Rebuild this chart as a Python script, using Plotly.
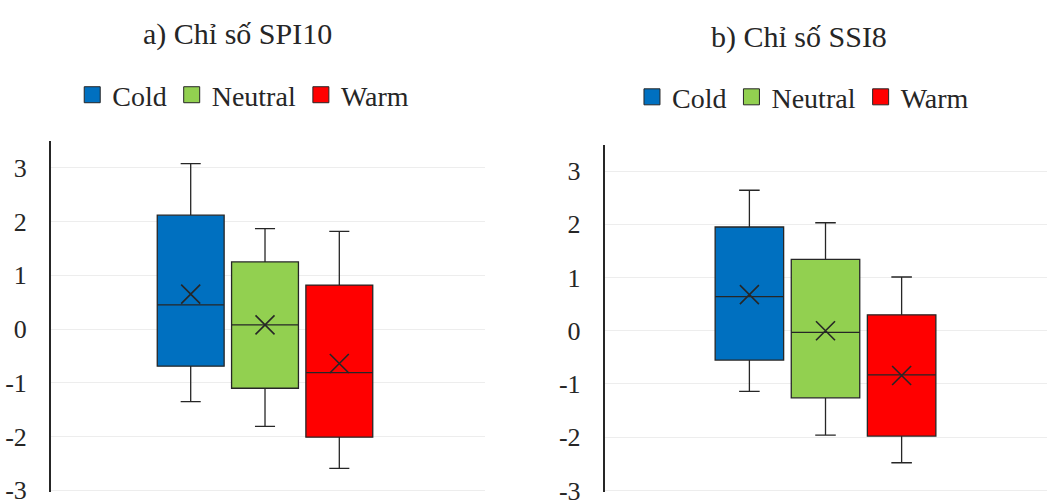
import plotly.graph_objects as go

# ---- data ----
classes = ["Cold", "Neutral", "Warm"]
colors = ["#0070C0", "#92D050", "#FF0000"]

# a) SPI10
spi_low = [-1.35, -1.81, -2.59]
spi_q1 = [-0.69, -1.10, -2.01]
spi_med = [0.45, 0.08, -0.81]
spi_q3 = [2.12, 1.25, 0.82]
spi_high = [3.08, 1.87, 1.82]
spi_mean = [0.65, 0.08, -0.64]

# b) SSI8
ssi_low = [-1.14, -1.96, -2.48]
ssi_q1 = [-0.55, -1.26, -1.98]
ssi_med = [0.64, -0.03, -0.83]
ssi_q3 = [1.95, 1.34, 0.30]
ssi_high = [2.64, 2.03, 1.01]
ssi_mean = [0.68, 0.00, -0.84]

titles = ["a) Chỉ số SPI10", "b) Chỉ số SSI8"]
yticks = [-3, -2, -1, 0, 1, 2, 3]
ytick_labels = ["-3", "-2", "-1", "0", "1", "2", "3"]

FONT = "Liberation Serif"
INK = "#262626"

fig = go.Figure()

panels = [
    (spi_low, spi_q1, spi_med, spi_q3, spi_high, spi_mean, "x", "y", "legend"),
    (ssi_low, ssi_q1, ssi_med, ssi_q3, ssi_high, ssi_mean, "x2", "y2", "legend2"),
]

for (lo, q1, med, q3, hi, mean, xa, ya, lg) in panels:
    for i, name in enumerate(classes):
        pos = i - 1
        fig.add_trace(go.Box(
            x=[pos], q1=[q1[i]], median=[med[i]], q3=[q3[i]],
            lowerfence=[lo[i]], upperfence=[hi[i]],
            width=0.9, whiskerwidth=0.3,
            fillcolor=colors[i], line=dict(color=INK, width=1.3),
            name=name, showlegend=False, xaxis=xa, yaxis=ya,
            hoverinfo="skip",
        ))
    fig.add_trace(go.Scatter(
        x=[i - 1 for i in range(len(classes))], y=mean, mode="markers",
        marker=dict(symbol="x-thin-open", size=19,
                    line=dict(color=INK, width=1.6), color=INK),
        showlegend=False, xaxis=xa, yaxis=ya, hoverinfo="skip",
    ))
    for i, name in enumerate(classes):
        fig.add_trace(go.Scatter(
            x=[None], y=[None], mode="markers", name=name,
            marker=dict(symbol="square", size=16, color=colors[i],
                        line=dict(color=INK, width=1)),
            xaxis=xa, yaxis=ya, legend=lg,
        ))

yax = dict(range=[-3.03, 3.5], tickvals=yticks, ticktext=ytick_labels,
           showgrid=True, gridcolor="#EDEDED", gridwidth=1, zeroline=False,
           showline=True, linecolor=INK, linewidth=2, ticks="",
           ticklabelstandoff=17, ticklabeloverflow="allow",
           tickfont=dict(family=FONT, size=26, color=INK))
xax = dict(showticklabels=False, showgrid=False, zeroline=False,
           showline=False, ticks="")

legend_common = dict(orientation="h", font=dict(family=FONT, size=28, color=INK),
                     xanchor="center", yanchor="middle", bgcolor="rgba(0,0,0,0)",
                     itemclick=False, itemdoubleclick=False)

fig.update_layout(
    width=1047, height=503,
    font=dict(family=FONT, color=INK),
    margin=dict(l=51, r=0, t=141, b=11, autoexpand=False),
    paper_bgcolor="white", plot_bgcolor="white",
    showlegend=True,
    xaxis=dict(domain=[0, 0.4357], range=[-2.88, 2.96], **xax),
    xaxis2=dict(domain=[0.556, 1], range=[-2.9, 2.91], anchor="y2", **xax),
    yaxis=dict(domain=[0, 1], anchor="x", **yax),
    yaxis2=dict(domain=[0, 0.99], anchor="x2", **yax),
    legend=dict(x=0.193, y=1.131, **legend_common),
    legend2=dict(x=0.755, y=1.125, **legend_common),
    annotations=[
        dict(text=titles[0], x=0.187, y=1.305, xref="paper", yref="paper",
             showarrow=False, xanchor="center", yanchor="middle",
             font=dict(family=FONT, size=30, color=INK)),
        dict(text=titles[1], x=0.751, y=1.296, xref="paper", yref="paper",
             showarrow=False, xanchor="center", yanchor="middle",
             font=dict(family=FONT, size=30, color=INK)),
    ],
)

fig.write_html("out.html", config={"displayModeBar": False},
               post_script="document.body.style.margin='0';")
